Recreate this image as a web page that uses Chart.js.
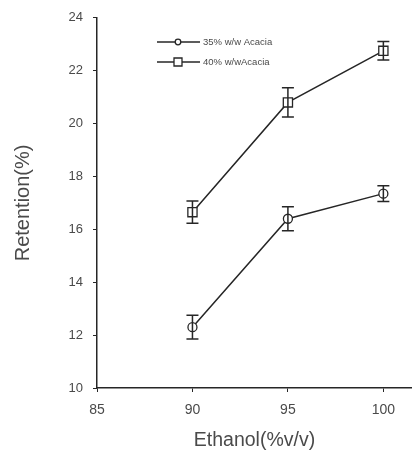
<!DOCTYPE html>
<html>
<head>
<meta charset="utf-8">
<script src="https://cdn.jsdelivr.net/npm/chart.js@4/dist/chart.umd.min.js"></script>
<style>
  html, body { margin: 0; padding: 0; background: #fff; }
  #wrap { width: 412px; height: 452px; }
</style>
</head>
<body>
<div id="wrap"><canvas id="grafico" width="412" height="452"></canvas></div>
<script>
// dados
var etanol = [90, 95, 100];
var acacia35 = [12.3, 16.4, 17.35];
var erro35 = [0.45, 0.45, 0.3];
var acacia40 = [16.65, 20.8, 22.75];
var erro40 = [0.42, 0.55, 0.35];
var xTicks = [85, 90, 95, 100];
var yTicks = [10, 12, 14, 16, 18, 20, 22, 24];

var cor = "#262626";
var corTexto = "#4a4a4a";
var fonte = "'Liberation Sans', Arial, sans-serif";

function pontos(ys) {
  return etanol.map((x, i) => ({ x: x, y: ys[i] }));
}

// barras de erro
var barrasErro = {
  id: "barrasErro",
  afterDatasetsDraw(chart) {
    var ctx = chart.ctx, xs = chart.scales.x, ys = chart.scales.y;
    ctx.save();
    ctx.strokeStyle = cor;
    ctx.lineWidth = 1.5;
    chart.data.datasets.forEach(ds => {
      ds.data.forEach((p, i) => {
        var px = xs.getPixelForValue(p.x);
        var top = ys.getPixelForValue(p.y + ds.erro[i]);
        var bot = ys.getPixelForValue(p.y - ds.erro[i]);
        ctx.beginPath();
        ctx.moveTo(px, top); ctx.lineTo(px, bot);
        ctx.moveTo(px - 6, top); ctx.lineTo(px + 6, top);
        ctx.moveTo(px - 6, bot); ctx.lineTo(px + 6, bot);
        ctx.stroke();
      });
    });
    ctx.restore();
  }
};

// legenda dentro do grafico
var legendaInterna = {
  id: "legendaInterna",
  afterDraw(chart) {
    var ctx = chart.ctx;
    ctx.save();
    chart.data.datasets.forEach((ds, i) => {
      var y = 42 + i * 20;
      ctx.strokeStyle = cor;
      ctx.lineWidth = 1.3;
      ctx.beginPath();
      ctx.moveTo(157, y); ctx.lineTo(200, y);
      ctx.stroke();
      ctx.fillStyle = "#fff";
      ctx.beginPath();
      if (ds.pointStyle === "rect") {
        ctx.rect(174, y - 4, 8, 8);
      } else {
        ctx.arc(178, y, 2.8, 0, Math.PI * 2);
      }
      ctx.fill();
      ctx.stroke();
      ctx.fillStyle = corTexto;
      ctx.font = "9.5px " + fonte;
      ctx.textBaseline = "middle";
      ctx.fillText(ds.label, 203, y + 0.5);
    });
    ctx.restore();
  }
};

new Chart(document.getElementById("grafico").getContext("2d"), {
  type: "line",
  data: {
    datasets: [
      {
        label: "35% w/w Acacia",
        data: pontos(acacia35),
        erro: erro35,
        borderColor: cor,
        borderWidth: 1.5,
        pointStyle: "circle",
        pointRadius: 4.5,
        pointBackgroundColor: "#fff",
        pointBorderColor: cor,
        pointBorderWidth: 1.3,
        fill: false
      },
      {
        label: "40% w/wAcacia",
        data: pontos(acacia40),
        erro: erro40,
        borderColor: cor,
        borderWidth: 1.5,
        pointStyle: "rect",
        pointRadius: 6.5,
        pointBackgroundColor: "#fff",
        pointBorderColor: cor,
        pointBorderWidth: 1.3,
        fill: false
      }
    ]
  },
  options: {
    responsive: false,
    animation: false,
    layout: { autoPadding: false, padding: { top: 17, right: 0, left: 0, bottom: 0 } },
    plugins: {
      legend: { display: false },
      tooltip: { enabled: false }
    },
    scales: {
      x: {
        type: "linear",
        min: 85,
        max: 101.5,
        afterBuildTicks: s => { s.ticks = xTicks.map(v => ({ value: v })); },
        afterFit: s => { s.height = 64; },
        grid: { drawOnChartArea: false, tickLength: 4, color: cor, lineWidth: 1 },
        border: { display: true, color: cor, width: 1.5 },
        ticks: { color: corTexto, padding: 10, maxRotation: 0,
          font: { family: fonte, size: 14 } },
        title: { display: true, text: "Ethanol(%v/v)", color: corTexto,
          padding: { top: 0, bottom: 0 },
          font: { family: fonte, size: 19.5 } }
      },
      y: {
        min: 10,
        max: 24,
        afterBuildTicks: s => { s.ticks = yTicks.map(v => ({ value: v })); },
        afterFit: s => { s.width = 97; },
        grid: { drawOnChartArea: false, tickLength: 4, color: cor, lineWidth: 1 },
        border: { display: true, color: cor, width: 1.5 },
        ticks: { color: corTexto, padding: 10,
          font: { family: fonte, size: 13 } },
        title: { display: true, text: "Retention(%)", color: corTexto,
          padding: { top: 11, bottom: 0 },
          font: { family: fonte, size: 20 } }
      }
    }
  },
  plugins: [barrasErro, legendaInterna]
});
</script>
</body>
</html>
